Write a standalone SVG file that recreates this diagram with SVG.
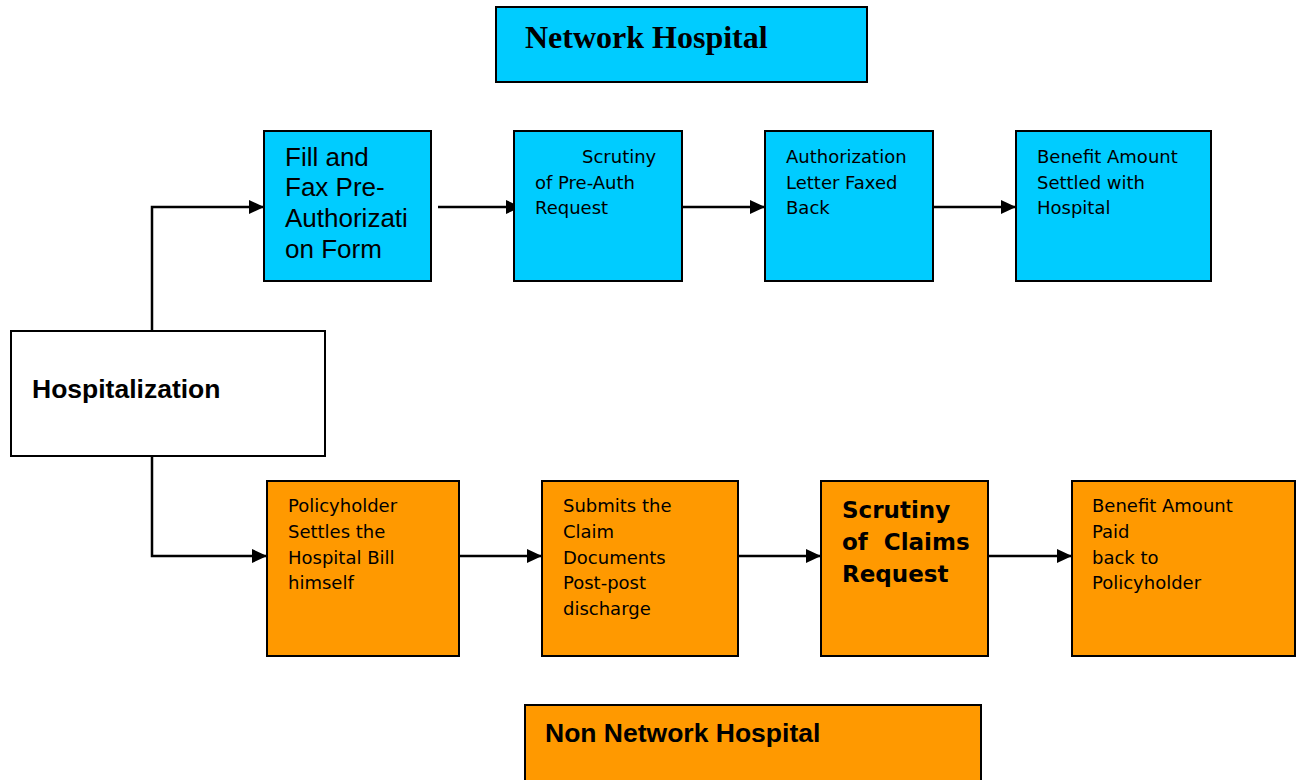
<svg xmlns="http://www.w3.org/2000/svg" width="1304" height="780" viewBox="0 0 1304 780">
<style>
.box{stroke:#000;stroke-width:2}
.blue{fill:#00CCFF}
.orange{fill:#FF9900}
.white{fill:#fff}
.t{font-family:"DejaVu Sans",Verdana,sans-serif;font-size:18px;fill:#000}
.tb{font-family:"DejaVu Sans",Verdana,sans-serif;font-size:23px;font-weight:bold;fill:#000}
.ar{font-family:"Liberation Sans",Arial,sans-serif;font-size:26px;fill:#000}
.arb{font-family:"Liberation Sans",Arial,sans-serif;font-size:26.5px;font-weight:bold;fill:#000}
.serif{font-family:"Liberation Serif","Times New Roman",serif;font-size:32px;font-weight:bold;fill:#000}
.line{stroke:#000;stroke-width:2.5;fill:none}
</style>
<defs>
<marker id="arr" markerWidth="15" markerHeight="14" refX="14" refY="7" orient="auto" markerUnits="userSpaceOnUse">
<path d="M0,0 L15,7 L0,14 z" fill="#000"/>
</marker>
</defs>
<rect width="1304" height="780" fill="#fff"/>
<g id="connectors">
<polyline class="line" points="152,331 152,207 263,207" marker-end="url(#arr)"/>
<polyline class="line" points="152,456 152,556 266,556" marker-end="url(#arr)"/>
<line class="line" x1="438" y1="207" x2="520" y2="207" marker-end="url(#arr)"/>
<line class="line" x1="682" y1="207" x2="764" y2="207" marker-end="url(#arr)"/>
<line class="line" x1="933" y1="207" x2="1015" y2="207" marker-end="url(#arr)"/>
<line class="line" x1="459" y1="556" x2="541" y2="556" marker-end="url(#arr)"/>
<line class="line" x1="738" y1="556" x2="820" y2="556" marker-end="url(#arr)"/>
<line class="line" x1="988" y1="556" x2="1071" y2="556" marker-end="url(#arr)"/>
</g>
<g id="network-hospital">
<rect class="box blue" x="496" y="7" width="371" height="75"/>
<text class="serif" x="525" y="48">Network Hospital</text>
</g>
<g id="hospitalization">
<rect class="box white" x="11" y="331" width="314" height="125"/>
<text class="arb" x="32" y="398">Hospitalization</text>
</g>
<g id="fill-fax">
<rect class="box blue" x="264" y="131" width="167" height="150"/>
<text class="ar" x="285"><tspan x="285" y="166">Fill and</tspan><tspan x="285" y="196">Fax Pre-</tspan><tspan x="285" y="227">Authorizati</tspan><tspan x="285" y="258">on Form</tspan></text>
</g>
<g id="scrutiny-preauth">
<rect class="box blue" x="514" y="131" width="168" height="150"/>
<text class="t"><tspan x="582" y="163">Scrutiny</tspan><tspan x="535" y="189">of Pre-Auth</tspan><tspan x="535" y="214">Request</tspan></text>
</g>
<g id="auth-letter">
<rect class="box blue" x="765" y="131" width="168" height="150"/>
<text class="t"><tspan x="786" y="163">Authorization</tspan><tspan x="786" y="189">Letter Faxed</tspan><tspan x="786" y="214">Back</tspan></text>
</g>
<g id="benefit-settled">
<rect class="box blue" x="1016" y="131" width="195" height="150"/>
<text class="t"><tspan x="1037" y="163">Benefit Amount</tspan><tspan x="1037" y="189">Settled with</tspan><tspan x="1037" y="214">Hospital</tspan></text>
</g>
<g id="policyholder-settles">
<rect class="box orange" x="267" y="481" width="192" height="175"/>
<text class="t"><tspan x="288" y="512">Policyholder</tspan><tspan x="288" y="538">Settles the</tspan><tspan x="288" y="564">Hospital Bill</tspan><tspan x="288" y="589">himself</tspan></text>
</g>
<g id="submits-claim">
<rect class="box orange" x="542" y="481" width="196" height="175"/>
<text class="t"><tspan x="563" y="512">Submits the</tspan><tspan x="563" y="538">Claim</tspan><tspan x="563" y="564">Documents</tspan><tspan x="563" y="589">Post-post</tspan><tspan x="563" y="615">discharge</tspan></text>
</g>
<g id="scrutiny-claims">
<rect class="box orange" x="821" y="481" width="167" height="175"/>
<text class="tb"><tspan x="842" y="518">Scrutiny</tspan><tspan x="842" y="550" xml:space="preserve">of  Claims</tspan><tspan x="842" y="582">Request</tspan></text>
</g>
<g id="benefit-paid">
<rect class="box orange" x="1072" y="481" width="223" height="175"/>
<text class="t"><tspan x="1092" y="512">Benefit Amount</tspan><tspan x="1092" y="538">Paid</tspan><tspan x="1092" y="564">back to</tspan><tspan x="1092" y="589">Policyholder</tspan></text>
</g>
<g id="non-network-hospital">
<rect class="box orange" x="525" y="705" width="456" height="80"/>
<text class="arb" x="545" y="742">Non Network Hospital</text>
</g>
</svg>
